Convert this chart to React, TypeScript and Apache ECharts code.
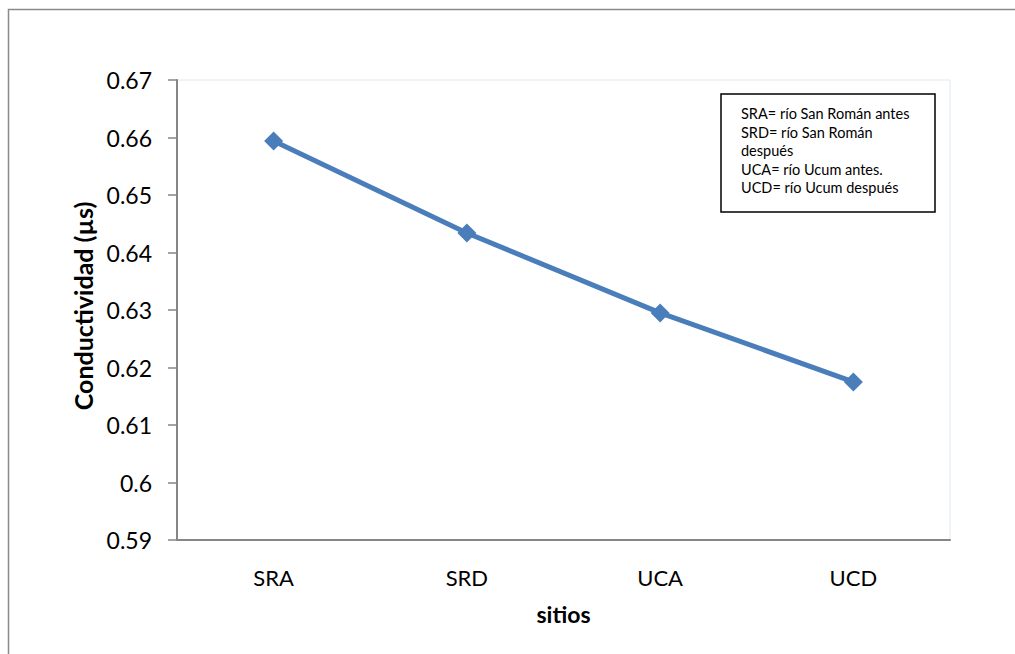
import React, { useEffect, useRef } from "react";
import * as echarts from "echarts";

// Sampling sites and measured conductivity
const sites = ["SRA", "SRD", "UCA", "UCD"];
const conductivity = [0.6594, 0.6434, 0.6295, 0.6175];

// Key describing the site codes
const keyLines = [
  "SRA= río San Román antes",
  "SRD= río San Román",
  "después",
  "UCA= río Ucum antes.",
  "UCD= río Ucum después",
];

const FONT = "Lato, 'Open Sans', sans-serif";

export default function App() {
  const ref = useRef<HTMLDivElement>(null);

  useEffect(() => {
    if (!ref.current) return;
    const chart = echarts.init(ref.current, null, { renderer: "svg" });

    const keyTexts = keyLines.map((line, i) => ({
      type: "text",
      left: 741,
      top: 106 + i * 18.6,
      style: { text: line, font: `14.5px ${FONT}`, fill: "#000" },
      silent: true,
    }));

    chart.setOption({
      animation: false,
      backgroundColor: "#fff",
      textStyle: { fontFamily: FONT },
      grid: {
        left: 177,
        top: 80,
        width: 773,
        height: 460,
        show: true,
        borderColor: "#dfe8f3",
        borderWidth: 1,
        containLabel: false,
      },
      xAxis: {
        type: "category",
        data: sites,
        boundaryGap: true,
        axisLine: { lineStyle: { color: "#868686", width: 2 } },
        axisTick: { show: false },
        axisLabel: { color: "#000", fontSize: 22, margin: 26, fontFamily: FONT },
        name: "sitios",
        nameLocation: "middle",
        nameGap: 62,
        nameTextStyle: { color: "#000", fontSize: 23, fontWeight: "bold", fontFamily: FONT },
        splitLine: { show: false },
      },
      yAxis: {
        type: "value",
        min: 0.59,
        max: 0.67,
        interval: 0.01,
        axisLine: { show: true, lineStyle: { color: "#868686", width: 2 } },
        axisTick: { show: true, length: 9, lineStyle: { color: "#868686", width: 1.5 } },
        axisLabel: {
          color: "#000",
          fontSize: 23,
          margin: 25,
          fontFamily: FONT,
          formatter: (v: number) => String(parseFloat(v.toFixed(2))),
        },
        splitLine: { show: false },
        name: "Conductividad (µs)",
        nameLocation: "middle",
        nameRotate: 90,
        nameGap: 82,
        nameTextStyle: {
          color: "#000",
          fontSize: 25,
          fontWeight: "bold",
          fontFamily: FONT,
          padding: [0, 0, 0, 8],
        },
      },
      series: [
        {
          type: "line",
          data: conductivity,
          symbol: "diamond",
          symbolSize: 19,
          lineStyle: { color: "#4a7ebb", width: 5 },
          itemStyle: { color: "#4a7ebb" },
        },
      ],
      graphic: [
        {
          type: "rect",
          shape: { x: 8.5, y: 9.5, width: 1030, height: 680 },
          style: { fill: "none", stroke: "#8a8a8a", lineWidth: 1.5 },
          silent: true,
          z: 100,
        },
        {
          type: "rect",
          shape: { x: 721, y: 94, width: 214, height: 118 },
          style: { fill: "#fff", stroke: "#000", lineWidth: 1.5 },
          silent: true,
          z: 100,
        },
        ...keyTexts.map((t) => ({ ...t, z: 101 })),
      ],
    });

    return () => chart.dispose();
  }, []);

  return (
    <div
      ref={ref}
      style={{ position: "absolute", left: 0, top: 0, width: 1015, height: 654 }}
    />
  );
}
